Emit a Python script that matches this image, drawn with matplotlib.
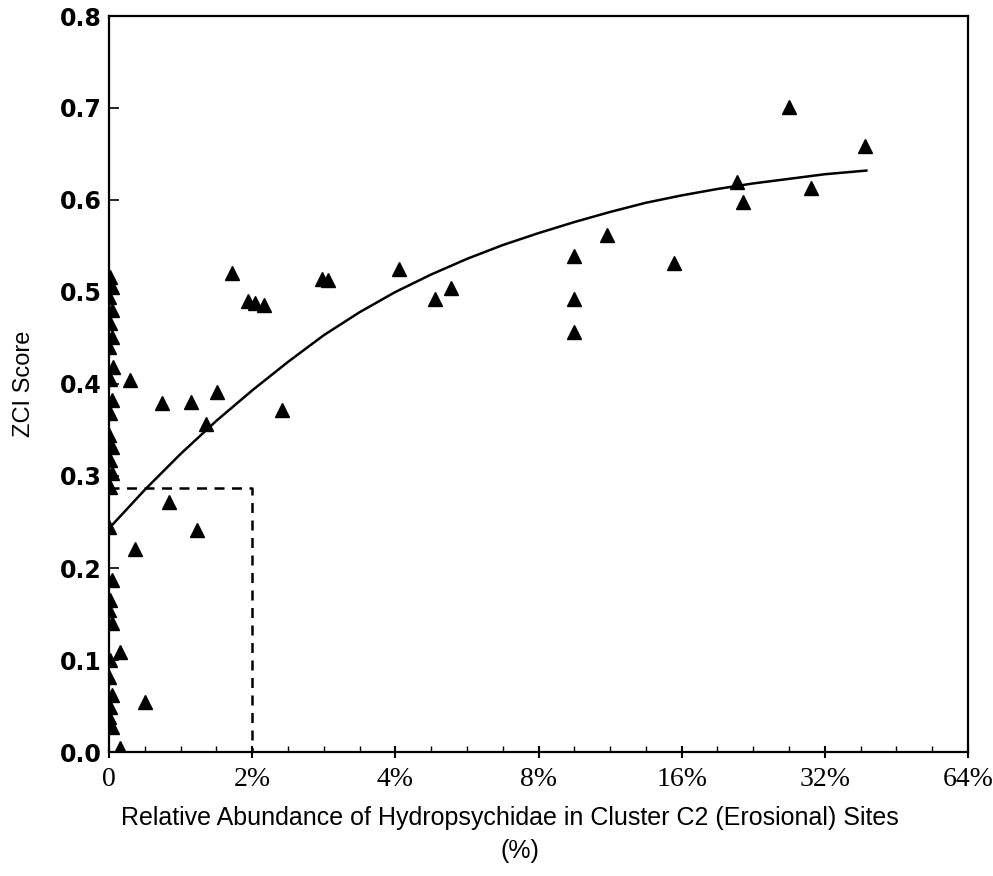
import matplotlib
matplotlib.use("Agg")
import matplotlib.pyplot as plt
from matplotlib.ticker import MultipleLocator

# Axis position u: 0 -> "0", then one unit per doubling of relative abundance
tick_pos = [0, 1, 2, 3, 4, 5, 6]
tick_labels = ["0", "2%", "4%", "8%", "16%", "32%", "64%"]

# Sites with no Hydropsychidae (stacked on the left edge)
zero_u = [0.01, 0.02, 0.00, 0.02, 0.01, 0.02, 0.00, 0.03, 0.01, 0.02, 0.01,
          0.00, 0.02, 0.01, 0.02, 0.01, 0.00, 0.02, 0.01, 0.00, 0.02, 0.01,
          0.00, 0.02, 0.01, 0.00, 0.02, 0.08]
zero_zci = [0.516, 0.505, 0.495, 0.480, 0.466, 0.451, 0.440, 0.418, 0.405,
            0.383, 0.368, 0.345, 0.332, 0.317, 0.303, 0.288, 0.245, 0.187,
            0.165, 0.154, 0.140, 0.100, 0.082, 0.062, 0.049, 0.038, 0.027,
            0.004]

# Sites with Hydropsychidae present
site_u = [0.147, 0.37, 0.573, 0.754, 0.677, 1.208, 0.859, 0.971, 1.02, 1.082,
          0.419, 0.615, 0.182, 0.077, 0.251, 1.487, 1.529, 2.025, 2.388,
          2.277, 3.247, 3.247, 3.247, 3.478, 3.946, 4.385, 4.427, 4.749,
          4.902, 5.279]
site_zci = [0.404, 0.379, 0.380, 0.391, 0.357, 0.372, 0.521, 0.490, 0.488,
            0.486, 0.272, 0.241, 0.221, 0.109, 0.054, 0.514, 0.513, 0.525,
            0.504, 0.492, 0.539, 0.492, 0.457, 0.562, 0.532, 0.620, 0.598,
            0.701, 0.613, 0.659]

# Fitted response curve
curve_u = [0, 0.25, 0.5, 0.75, 1.0, 1.25, 1.5, 1.75, 2.0, 2.25, 2.5, 2.75,
           3.0, 3.25, 3.5, 3.75, 4.0, 4.25, 4.5, 4.75, 5.0, 5.29]
curve_zci = [0.243, 0.285, 0.324, 0.360, 0.393, 0.424, 0.453, 0.478, 0.500,
             0.519, 0.536, 0.551, 0.564, 0.576, 0.587, 0.597, 0.605, 0.612,
             0.618, 0.623, 0.628, 0.632]

# Threshold box (2% abundance, ZCI 0.287)
thresh_u = 1.0
thresh_zci = 0.287

W, H = 993, 876
fig = plt.figure(figsize=(W / 100, H / 100), dpi=100)
ax = fig.add_axes([109 / W, 1 - 752 / H, (968 - 109) / W, (752 - 16) / H])

ax.plot(zero_u, zero_zci, linestyle="none", marker="^", color="black",
        markersize=10, clip_on=True)
ax.plot(site_u, site_zci, linestyle="none", marker="^", color="black",
        markersize=10)
ax.plot(curve_u, curve_zci, color="black", linewidth=1.8,
        solid_joinstyle="round")
ax.plot([0, thresh_u, thresh_u], [thresh_zci, thresh_zci, 0], color="black",
        linewidth=1.8, linestyle=(0, (4, 3)))

ax.set_xlim(0, 6)
ax.set_ylim(0, 0.8)

ax.set_xticks(tick_pos)
ax.set_xticklabels(tick_labels, fontfamily="Liberation Serif", fontsize=20)
ax.xaxis.set_minor_locator(MultipleLocator(0.25))
ax.yaxis.set_major_locator(MultipleLocator(0.1))
ax.set_yticklabels([f"{v:.1f}" for v in ax.get_yticks()],
                   fontfamily="DejaVu Sans", fontweight="bold", fontsize=17)

ax.tick_params(axis="x", which="major", direction="inout", length=8, width=1.5, pad=7)
ax.tick_params(axis="x", which="minor", direction="in", length=4, width=1.0)
ax.tick_params(axis="y", which="major", direction="in", length=7, width=1.2, pad=5)

for s in ax.spines.values():
    s.set_linewidth(1.6)

# Two-line x-axis title
fig.text(510 / W, 1 - 818 / H,
         "Relative Abundance of Hydropsychidae in Cluster C2 (Erosional) Sites",
         ha="center", va="center", fontfamily="Liberation Sans", fontsize=18)
fig.text(520 / W, 1 - 851 / H, "(%)", ha="center", va="center",
         fontfamily="Liberation Sans", fontsize=18)
ax.set_ylabel("ZCI Score", fontfamily="Liberation Sans", fontsize=17, labelpad=18)

fig.savefig("out.png", dpi=100)
